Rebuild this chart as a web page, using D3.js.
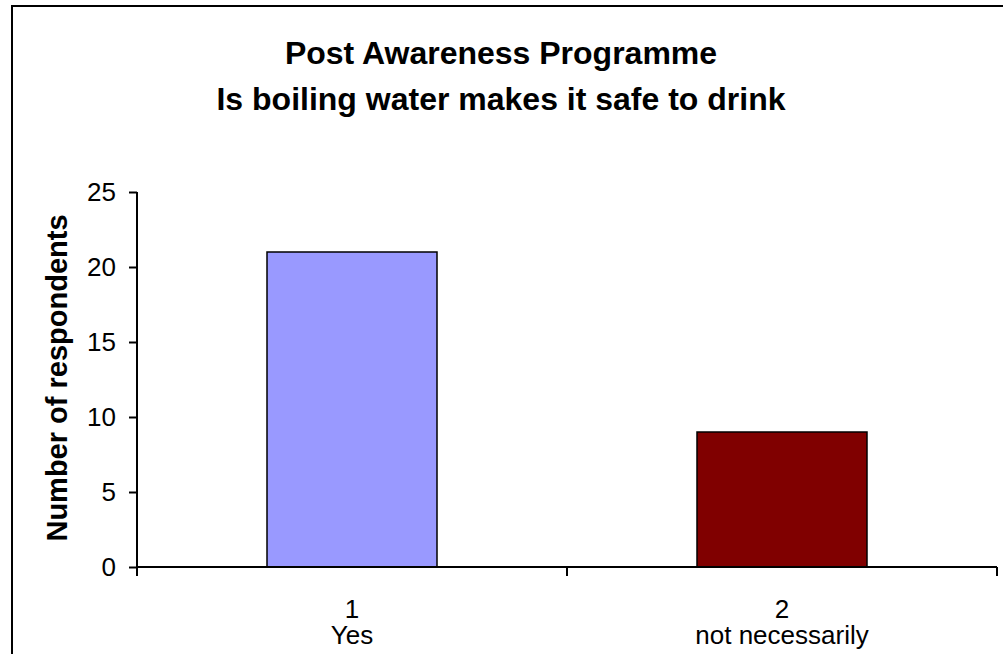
<!DOCTYPE html>
<html><head><meta charset="utf-8">
<script src="https://cdn.jsdelivr.net/npm/d3@7"></script>
<style>html,body{margin:0;padding:0;background:#fff;overflow:hidden}</style>
</head><body>
<svg id="chart" width="1003" height="654"></svg>
<script>
const categories = ["1", "2"];
const categoryNames = ["Yes", "not necessarily"];
const values = [21, 9];
const barColors = ["#9999FF", "#800000"];
const yTicks = [0, 5, 10, 15, 20, 25];
const titleLines = ["Post Awareness Programme", "Is boiling water makes it safe to drink"];
const yLabel = "Number of respondents";

const FONT = "Liberation Sans, Arial, sans-serif";
const svg = d3.select("#chart");
svg.append("rect").attr("width", 1003).attr("height", 654).attr("fill", "#fff");
svg.append("rect").attr("x", 12).attr("y", 6).attr("width", 1100).attr("height", 800)
  .attr("fill", "none").attr("stroke", "#000").attr("stroke-width", 2);

const x0 = 137, x1 = 997, yTop = 192, yBot = 567;
const x = d3.scaleBand().domain(categories).range([x0, x1]).padding(0);
const y = d3.scaleLinear().domain([0, 25]).range([yBot, yTop]);
const barFrac = 170 / 430;

// title
svg.append("g").selectAll("text").data(titleLines).join("text")
  .attr("x", 501).attr("y", (d, i) => 64 + i * 46)
  .attr("text-anchor", "middle").attr("font-family", FONT)
  .attr("font-weight", "bold").attr("font-size", 32).text(d => d);

// bars
svg.append("g").selectAll("rect").data(values).join("rect")
  .attr("x", (d, i) => x(categories[i]) + x.bandwidth() * (1 - barFrac) / 2)
  .attr("width", x.bandwidth() * barFrac)
  .attr("y", d => y(d)).attr("height", d => y(0) - y(d))
  .attr("fill", (d, i) => barColors[i]).attr("stroke", "#000").attr("stroke-width", 1.5);

// y axis
const yAxis = svg.append("g").attr("transform", `translate(${x0},0)`)
  .call(d3.axisLeft(y).tickValues(yTicks).tickSize(8).tickPadding(13).tickFormat(d3.format("d")));
yAxis.select(".domain").attr("stroke", "#000").attr("stroke-width", 2).attr("d", `M0,${yTop}V${yBot}`);
yAxis.selectAll(".tick line").attr("stroke", "#000").attr("stroke-width", 2);
yAxis.selectAll(".tick text").attr("font-family", FONT).attr("font-size", 26).attr("fill", "#000");

// x axis
const xAxisG = svg.append("g").attr("transform", `translate(0,${yBot})`);
xAxisG.append("line").attr("x1", x0).attr("x2", x1).attr("stroke", "#000").attr("stroke-width", 2);
const bounds = categories.map(c => x(c)).concat([x(categories[categories.length - 1]) + x.bandwidth()]);
xAxisG.selectAll("line.tk").data(bounds).join("line").attr("class", "tk")
  .attr("x1", d => d).attr("x2", d => d).attr("y1", 0).attr("y2", 9)
  .attr("stroke", "#000").attr("stroke-width", 2);
const lbl = svg.append("g").selectAll("text").data(categories).join("text")
  .attr("text-anchor", "middle").attr("font-family", FONT)
  .attr("font-size", 26).attr("fill", "#000");
lbl.append("tspan").attr("x", d => x(d) + x.bandwidth() / 2).attr("y", 618).text(d => d);
lbl.append("tspan").attr("x", d => x(d) + x.bandwidth() / 2).attr("y", 644).text((d, i) => categoryNames[i]);

// y label
svg.append("text").attr("transform", "translate(67,378) rotate(-90)")
  .attr("text-anchor", "middle").attr("font-family", FONT)
  .attr("font-weight", "bold").attr("font-size", 29).text(yLabel);
</script>
</body></html>
